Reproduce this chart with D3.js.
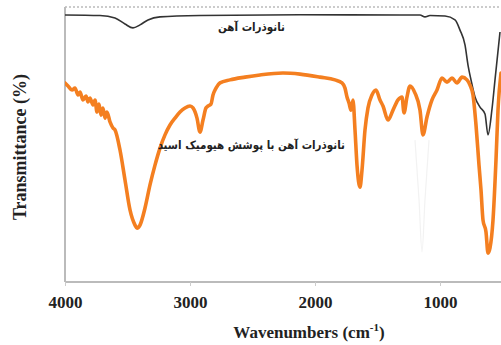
<!DOCTYPE html>
<html><head><meta charset="utf-8">
<script src="https://cdn.jsdelivr.net/npm/d3@7"></script>
<style>html,body{margin:0;padding:0;background:#fff;}svg{display:block;}</style>
</head><body>
<svg id="chart" width="501" height="345"></svg>
<script>
// Data (wavenumber cm-1, transmittance arbitrary %)
const xTicks = [4000, 3000, 2000, 1000];
const seriesNames = ["نانوذرات آهن", "نانوذرات آهن با پوشش هیومیک اسید"];
const ironWn = [4000,3720,3600,3520,3456,3400,3336,3240,2920,2120,1320,1160,1120,1080,960,880,840,800,776,752,720,680,640,616,584,560,520];
const ironT  = [97.1,96.9,96.0,93.8,92.4,93.5,95.3,96.4,96.9,97.2,97.1,97.1,96.4,96.9,96.7,95.3,91.6,86.2,78.9,73.5,67.3,63.6,61.1,53.5,62.9,73.5,90.9];
const coatWn = [4000,3976,3944,3920,3896,3880,3856,3832,3816,3800,3776,3760,3744,3728,3712,3696,3680,3664,3640,3616,3600,3560,3520,3480,3440,3424,3400,3360,3320,3280,3240,3200,3160,3120,3080,3040,3000,2976,2944,2920,2896,2872,2856,2832,2816,2792,2760,2680,2560,2440,2256,2120,1960,1840,1784,1760,1744,1728,1712,1696,1680,1664,1640,1624,1600,1576,1544,1512,1480,1456,1416,1376,1336,1304,1288,1264,1240,1200,1160,1136,1104,1064,1024,984,944,904,864,824,784,760,736,712,688,672,656,632,616,600,576,552,536,512];
const coatT  = [72.4,71.3,69.8,70.5,68.0,69.1,66.2,67.6,65.5,66.9,64.4,66.2,61.8,64.7,60.7,63.3,59.6,61.8,58.2,56.0,55.3,48.0,37.1,26.2,20.7,19.6,20.7,26.9,35.3,42.5,48.7,53.5,57.1,59.6,61.8,63.3,64.0,63.3,59.6,54.5,58.9,63.3,64.0,64.7,68.0,70.5,72.4,73.5,74.5,75.3,76.0,75.6,74.5,73.5,72.4,70.5,67.3,65.1,62.5,66.2,55.3,42.5,34.5,40.7,55.3,63.3,68.0,69.8,66.2,64.0,58.9,62.5,66.2,67.3,61.5,67.3,71.3,68.7,62.5,53.5,60.0,66.2,69.8,74.2,72.7,74.2,72.4,74.5,73.5,71.6,68.0,57.1,42.5,33.5,22.5,18.2,10.5,12.4,22.5,44.4,62.5,76.0];
const ghostWn = [1200,1168,1144,1120,1088];
const ghostT  = [51.6,30.0,10.9,30.0,51.6];

const svg = d3.select("#chart");
const L = 65, R = 502.5, T = 7, B = 282;
const x = d3.scaleLinear().domain([4000, 500]).range([L, R]);
const y = d3.scaleLinear().domain([0, 100]).range([B, T]);
const serif = "'Liberation Serif','Times New Roman',serif";
const arabic = "'DejaVu Sans Condensed','DejaVu Sans',sans-serif";

// frame
svg.append("line").attr("x1", L).attr("x2", 501).attr("y1", T).attr("y2", T)
  .attr("stroke", "#bbb").attr("stroke-width", 1.5).attr("stroke-dasharray", "2,2");
svg.append("line").attr("x1", L).attr("x2", L).attr("y1", T).attr("y2", B)
  .attr("stroke", "#bbb").attr("stroke-width", 2);

const xAxis = d3.axisBottom(x).tickValues(xTicks).tickSize(4).tickPadding(10).tickFormat(d3.format("d"));
const gx = svg.append("g").attr("transform", `translate(0,${B})`).call(xAxis);
gx.select(".domain").attr("stroke", "#bbb").attr("stroke-width", 2).attr("d", `M${L},0H501`);
gx.selectAll(".tick line").attr("stroke", "#ccc");
gx.selectAll(".tick text").attr("font-family", serif).attr("font-weight", "bold")
  .attr("font-size", 17).attr("fill", "#222");

// lines
const mk = (wn, tv) => wn.map((w, i) => [w, tv[i]]);
const line = d3.line().x(d => x(d[0])).y(d => y(d[1])).curve(d3.curveMonotoneX);

svg.append("path").datum(mk(ghostWn, ghostT)).attr("d", line)
  .attr("fill", "none").attr("stroke", "#f2f2f2").attr("stroke-width", 1.2);

svg.append("clipPath").attr("id", "clip").append("rect")
  .attr("x", L).attr("y", 0).attr("width", 501 - L).attr("height", B);

svg.append("path").datum(mk(ironWn, ironT)).attr("d", line).attr("clip-path", "url(#clip)")
  .attr("fill", "none").attr("stroke", "#333").attr("stroke-width", 1.6);

svg.append("path").datum(mk(coatWn, coatT)).attr("d", line).attr("clip-path", "url(#clip)")
  .attr("fill", "none").attr("stroke", "#f47f20").attr("stroke-width", 3.6)
  .attr("stroke-linecap", "round").attr("stroke-linejoin", "round");

// labels
svg.append("text").attr("x", 285).attr("y", 31).attr("text-anchor", "end")
  .attr("font-family", arabic).attr("font-weight", "bold").attr("font-size", 11.5)
  .attr("fill", "#222").text(seriesNames[0]);
svg.append("text").attr("x", 345).attr("y", 149).attr("text-anchor", "end")
  .attr("font-family", arabic).attr("font-weight", "bold").attr("font-size", 11.5)
  .attr("fill", "#222").text(seriesNames[1]);

// axis titles
const xt = svg.append("text").attr("x", 309).attr("y", 338).attr("text-anchor", "middle")
  .attr("font-family", serif).attr("font-weight", "bold").attr("font-size", 17).attr("fill", "#222");
xt.append("tspan").text("Wavenumbers (cm");
xt.append("tspan").attr("font-size", 11).attr("dy", -7).text("-1");
xt.append("tspan").attr("dy", 7).text(")");

svg.append("text").attr("transform", "translate(26,147) rotate(-90)").attr("text-anchor", "middle")
  .attr("font-family", serif).attr("font-weight", "bold").attr("font-size", 18).attr("fill", "#222")
  .text("Transmittance (%)");
</script>
</body></html>
